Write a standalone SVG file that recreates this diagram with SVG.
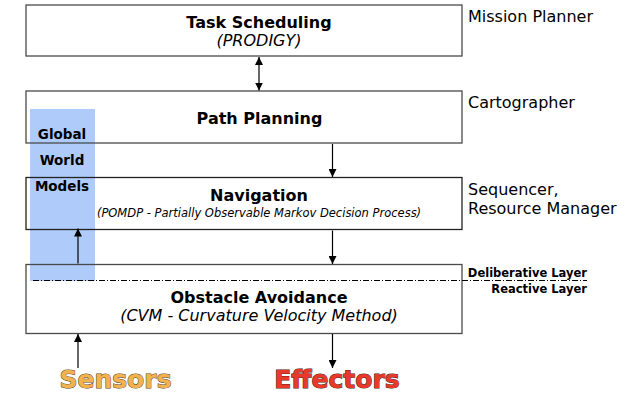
<svg xmlns="http://www.w3.org/2000/svg" width="633" height="395" viewBox="0 0 633 395">
<defs>
<marker id="ah" viewBox="0 0 10 10" refX="10" refY="5" markerWidth="8" markerHeight="8" markerUnits="userSpaceOnUse" orient="auto-start-reverse">
<path d="M0,0 L10,5 L0,10 z" fill="#000"/>
</marker>
</defs>
<style>
text{font-family:"DejaVu Sans","Liberation Sans",sans-serif;fill:#000}
.box{fill:none;stroke:#4a4a4a;stroke-width:1.3}
.t{font-weight:bold;font-size:16px;text-anchor:middle}
.it{font-style:italic;text-anchor:middle}
.lab{font-size:16px}
.gw{font-weight:bold;font-size:13.5px;text-anchor:middle}
.ly{font-weight:bold;font-size:11.5px}
.big{font-weight:bold;font-size:25px;text-anchor:middle;stroke-width:1;paint-order:stroke}
.c{stroke:#000;stroke-width:1.2;fill:none}
</style>
<rect width="633" height="395" fill="#fff"/>
<g id="global-world-models">
<rect x="30" y="109" width="65" height="172" fill="#aecbfa"/>
<text class="gw" x="62" y="139">Global</text>
<text class="gw" x="62" y="165">World</text>
<text class="gw" x="62" y="191">Models</text>
</g>
<g id="task-scheduling">
<rect class="box" x="26" y="5" width="436" height="51"/>
<text class="t" x="259" y="27.5">Task Scheduling</text>
<text class="it" x="259" y="45.5" font-size="16">(PRODIGY)</text>
</g>
<g id="path-planning">
<rect class="box" x="26" y="91" width="436" height="52"/>
<text class="t" x="259.5" y="124">Path Planning</text>
</g>
<g id="navigation">
<rect class="box" x="26" y="177.5" width="436" height="52" style="stroke:#222"/>
<text class="t" x="259" y="200.5">Navigation</text>
<text class="it" x="259" y="216.5" font-size="11.5">(POMDP - Partially Observable Markov Decision Process)</text>
</g>
<g id="obstacle-avoidance">
<rect class="box" x="26" y="264.5" width="436" height="69"/>
<text class="t" x="259" y="303">Obstacle Avoidance</text>
<text class="it" x="259" y="321" font-size="16">(CVM - Curvature Velocity Method)</text>
</g>
<g id="labels">
<text class="lab" x="468" y="22">Mission Planner</text>
<text class="lab" x="468" y="108">Cartographer</text>
<text class="lab" x="468" y="195">Sequencer,</text>
<text class="lab" x="468" y="214">Resource Manager</text>
</g>
<g id="layers">
<line x1="33" y1="280.5" x2="587" y2="280.5" stroke="#000" stroke-width="1" stroke-dasharray="6,2,1,2"/>
<text class="ly" x="587" y="276.5" text-anchor="end">Deliberative Layer</text>
<text class="ly" x="587" y="292.5" text-anchor="end">Reactive Layer</text>
</g>
<g id="sensors">
<text class="big" x="115.5" y="388" stroke="#5a4628" style="fill:#f2b24e">Sensors</text>
</g>
<g id="effectors">
<text class="big" x="337" y="388" stroke="#4a1a14" style="fill:#e8392a">Effectors</text>
</g>
<g id="connectors">
<line class="c" x1="259" y1="57" x2="259" y2="90.5" marker-start="url(#ah)" marker-end="url(#ah)"/>
<line class="c" x1="332.5" y1="144" x2="332.5" y2="177" marker-end="url(#ah)"/>
<line class="c" x1="332.5" y1="230.5" x2="332.5" y2="264" marker-end="url(#ah)"/>
<line class="c" x1="78" y1="263.5" x2="78" y2="228.5" marker-end="url(#ah)"/>
<line class="c" x1="78" y1="368" x2="78" y2="334" marker-end="url(#ah)"/>
<line class="c" x1="332.5" y1="334" x2="332.5" y2="368" marker-end="url(#ah)"/>
</g>
</svg>
